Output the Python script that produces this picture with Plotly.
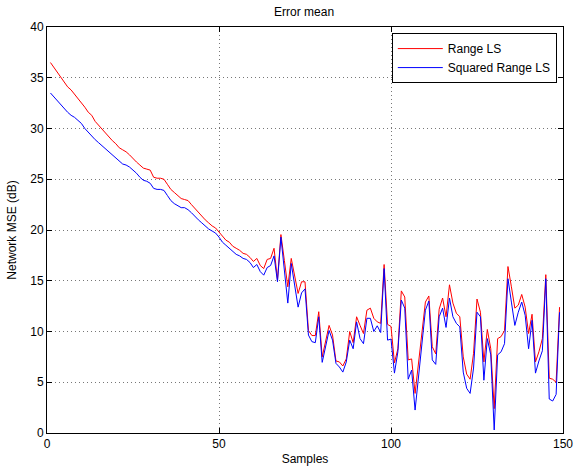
import plotly.graph_objects as go

samples = list(range(1, 150))

range_ls = [
    36.5, 36.0, 35.5, 35.0, 34.5, 34.1, 33.8, 33.4, 33.0, 32.6,
    32.1, 31.6, 31.3, 30.7, 30.3, 29.9, 29.5, 29.1, 28.8, 28.5,
    28.1, 27.9, 27.7, 27.4, 27.0, 26.7, 26.4, 26.1, 26.0, 25.9,
    25.2, 25.1, 25.1, 25.0, 24.5, 24.0, 23.7, 23.4, 23.1, 23.0,
    22.9, 22.5, 22.1, 21.8, 21.4, 21.0, 20.7, 20.4, 20.2, 19.8,
    19.3, 19.0, 18.8, 18.4, 18.2, 18.0, 17.7, 17.6, 17.3, 16.9,
    17.2, 16.5, 16.2, 17.1, 17.2, 18.2, 15.1, 19.55, 17.0, 14.4,
    17.2, 15.3, 13.75, 14.9, 14.9, 10.1, 9.6, 9.6, 11.95, 7.5,
    9.0, 10.6, 9.65, 7.1, 7.0, 6.6, 7.3, 10.0, 8.9, 11.45,
    10.6, 9.8, 12.1, 12.3, 11.3, 10.95, 10.8, 16.6, 10.7, 10.5,
    6.9, 8.3, 14.0, 13.4, 7.2, 7.3, 3.9, 6.7, 9.8, 12.9,
    13.5, 8.5, 7.8, 12.2, 13.3, 11.45, 14.6, 12.8, 11.8, 11.45,
    7.5, 5.8, 5.3, 7.85, 13.2, 11.9, 7.0, 10.2, 8.3, 2.4,
    9.3, 9.5, 10.1, 16.4, 14.4, 12.3, 12.6, 13.65, 12.4, 9.8,
    11.7, 7.0, 8.0, 9.3, 15.6, 5.4, 5.3, 5.0, 12.4,
]

squared_range_ls = [
    33.5, 33.1, 32.7, 32.3, 31.9, 31.6, 31.3, 31.1, 30.8, 30.5,
    30.0, 29.6, 29.3, 28.9, 28.6, 28.3, 28.0, 27.7, 27.4, 27.1,
    26.8, 26.5, 26.4, 26.2, 25.9, 25.6, 25.2, 24.9, 24.8, 24.6,
    24.1, 24.0, 24.0, 23.9, 23.4, 22.9, 22.6, 22.4, 22.2, 22.2,
    22.0, 21.7, 21.3, 21.0, 20.7, 20.4, 20.1, 19.9, 19.7, 19.3,
    18.8, 18.5, 18.2, 17.9, 17.6, 17.45, 17.2, 17.1, 16.8, 16.3,
    16.6, 15.9, 15.55, 16.3, 16.5, 17.45, 14.9, 19.3, 16.0, 12.8,
    16.7, 14.5, 12.4, 13.8, 14.2, 9.65, 9.0, 8.9, 11.45, 6.96,
    8.5, 10.1, 9.15, 6.86, 6.5, 6.0, 7.0, 9.15, 8.3, 10.95,
    9.3, 8.8, 11.3, 11.3, 10.0, 10.56, 9.9, 16.2, 9.15, 9.25,
    5.9, 8.0, 13.1, 12.3, 5.3, 6.2, 2.26, 5.7, 8.66, 12.1,
    13.0, 7.2, 6.76, 11.45, 12.3, 10.4, 13.3, 11.45, 10.8, 10.46,
    6.0, 4.4, 3.9, 6.4, 11.9, 11.45, 5.2, 9.3, 7.7, 0.3,
    7.7, 8.0, 8.8, 15.2, 12.9, 10.6, 11.9, 12.9, 11.6, 8.3,
    11.1, 5.9, 7.1, 8.1, 15.2, 3.35, 3.15, 3.8, 11.9,
]

x_ticks = [0, 50, 100, 150]
y_ticks = [0, 5, 10, 15, 20, 25, 30, 35, 40]

font_family = "Liberation Sans, Arial, sans-serif"

fig = go.Figure()
fig.add_trace(go.Scatter(x=samples, y=range_ls, mode="lines", name="Range LS",
                         line=dict(color="#ff0000", width=1)))
fig.add_trace(go.Scatter(x=samples, y=squared_range_ls, mode="lines", name="Squared Range LS",
                         line=dict(color="#0000ff", width=1)))

axis_common = dict(
    showline=True, linecolor="black", linewidth=1, mirror="ticks",
    ticks="inside", ticklen=5, tickcolor="black",
    showgrid=True, gridcolor="#777777", griddash="1px,3px", gridwidth=1,
    zeroline=False, automargin=False,
    tickfont=dict(size=12, color="black", family=font_family),
)

fig.update_layout(
    width=576, height=467,
    margin=dict(l=47, r=13, t=27, b=34),
    paper_bgcolor="white", plot_bgcolor="white",
    font=dict(family=font_family, size=12, color="black"),
    title=dict(text="Error mean", x=0.528, xanchor="center", y=0.974, yanchor="middle",
               font=dict(size=12, family=font_family, color="black")),
    xaxis=dict(range=[0, 150], tickvals=x_ticks, ticktext=[str(v) for v in x_ticks],
               title=dict(text="Samples", standoff=4, font=dict(size=12)), **axis_common),
    yaxis=dict(range=[0, 40], tickvals=y_ticks, ticktext=[str(v) for v in y_ticks],
               title=dict(text="Network MSE (dB)", standoff=11, font=dict(size=12)), **axis_common),
    legend=dict(x=0.988, y=0.985, xanchor="right", yanchor="top",
                bordercolor="black", borderwidth=1, bgcolor="white",
                font=dict(size=12, family=font_family), tracegroupgap=0,
                itemwidth=45),
    showlegend=True,
)

fig.write_html("out.html")
